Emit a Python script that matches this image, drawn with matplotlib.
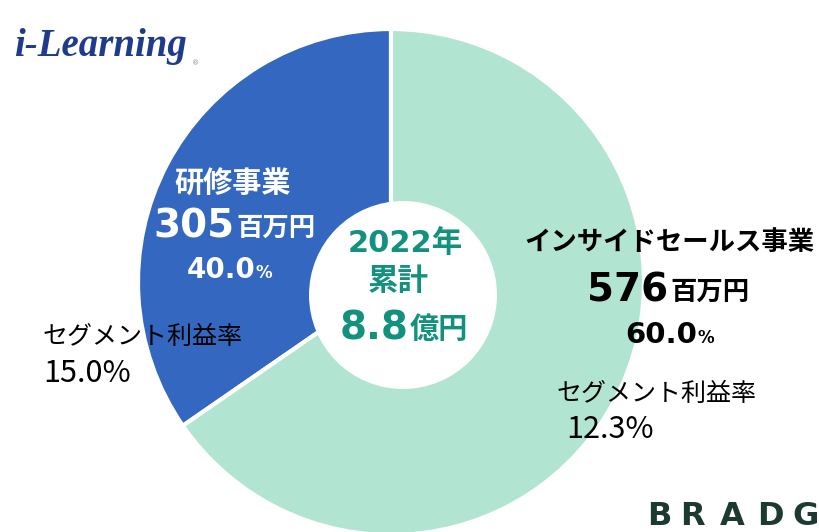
import matplotlib
matplotlib.use("Agg")
import matplotlib.pyplot as plt
from matplotlib.patches import Circle

# ---- data ----
segments = ["研修事業", "インサイドセールス事業"]
sales = [305, 576]            # 百万円
shares = [40.0, 60.0]         # %
margins = [15.0, 12.3]        # セグメント利益率 %
colors = ["#3468C0", "#B2E4D2"]
year = 2022
total = 8.8                   # 億円

W, H = 819, 532
fig = plt.figure(figsize=(W / 100, H / 100), dpi=100)
ax = fig.add_axes([0, 0, 1, 1])

def Y(py):
    return H - py

JP = ["Noto Sans CJK JP", "DejaVu Sans"]
NUM = ["DejaVu Sans", "Noto Sans CJK JP"]

ax.pie(sales, colors=colors, startangle=90, counterclock=True,
       center=(391, Y(282)), radius=253,
       wedgeprops=dict(edgecolor="white", linewidth=3))
ax.add_patch(Circle((403, Y(295)), 94, facecolor="white", edgecolor="none", zorder=5))
ax.set_xlim(0, W)
ax.set_ylim(0, H)
ax.set_aspect("equal")
ax.axis("off")

teal = "#12917F"

# center text
ax.text(405, Y(243), f"{year}年", family=NUM, fontsize=22, fontweight="bold",
        color=teal, ha="center", va="center", zorder=6)
ax.text(398, Y(281), "累計", family=JP, fontsize=22, fontweight="bold",
        color=teal, ha="center", va="center", zorder=6)
ax.text(408, Y(340), f"{total}", family=NUM, fontsize=28, fontweight="bold",
        color=teal, ha="right", va="baseline", zorder=6)
ax.text(410, Y(338), "億円", family=JP, fontsize=21, fontweight="bold",
        color=teal, ha="left", va="baseline", zorder=6)

# blue segment label
ax.text(233, Y(183), segments[0], family=JP, fontsize=21, fontweight="bold",
        color="white", ha="center", va="center", zorder=6)
ax.text(234, Y(238), f"{sales[0]}", family=NUM, fontsize=28, fontweight="bold",
        color="white", ha="right", va="baseline", zorder=6)
ax.text(236, Y(236), "百万円", family=JP, fontsize=19, fontweight="bold",
        color="white", ha="left", va="baseline", zorder=6)
ax.text(255, Y(278), f"{shares[0]:.1f}", family=NUM, fontsize=20, fontweight="bold",
        color="white", ha="right", va="baseline", zorder=6)
ax.text(256, Y(278), "%", family=NUM, fontsize=12, fontweight="bold",
        color="white", ha="left", va="baseline", zorder=6)

# green segment label
ax.text(669, Y(243), segments[1], family=JP, fontsize=19, fontweight="bold",
        color="black", ha="center", va="center", zorder=6)
ax.text(668, Y(302), f"{sales[1]}", family=NUM, fontsize=28, fontweight="bold",
        color="black", ha="right", va="baseline", zorder=6)
ax.text(670, Y(300), "百万円", family=JP, fontsize=19, fontweight="bold",
        color="black", ha="left", va="baseline", zorder=6)
ax.text(697, Y(343), f"{shares[1]:.1f}", family=NUM, fontsize=21, fontweight="bold",
        color="black", ha="right", va="baseline", zorder=6)
ax.text(698, Y(343), "%", family=NUM, fontsize=12, fontweight="bold",
        color="black", ha="left", va="baseline", zorder=6)

# segment margins
ax.text(42, Y(337), "セグメント利益率", family=JP, fontsize=18,
        color="black", ha="left", va="center", zorder=6)
ax.text(43, Y(373), f"{margins[0]:.1f}%", family=JP, fontsize=22,
        color="black", ha="left", va="center", zorder=6)
ax.text(556, Y(394), "セグメント利益率", family=JP, fontsize=18,
        color="black", ha="left", va="center", zorder=6)
ax.text(566, Y(430), f"{margins[1]:.1f}%", family=JP, fontsize=22,
        color="black", ha="left", va="center", zorder=6)

# logos
ax.text(14, Y(56), "i-Learning", family=["Liberation Serif"], fontsize=28,
        fontweight="bold", fontstyle="italic", color="#1F3C8C",
        ha="left", va="baseline", zorder=6)
ax.text(192, Y(65), "®", family=["DejaVu Sans"], fontsize=5,
        color="#888888", ha="left", va="baseline", zorder=6)
for ch, x in zip("BRADG", [647, 680, 720, 757, 792]):
    ax.text(x, Y(532), ch, family=["DejaVu Sans"], fontsize=23, fontweight="bold",
            color="#1C3A32", ha="left", va="bottom", zorder=6)

fig.savefig("out.png", dpi=100)
